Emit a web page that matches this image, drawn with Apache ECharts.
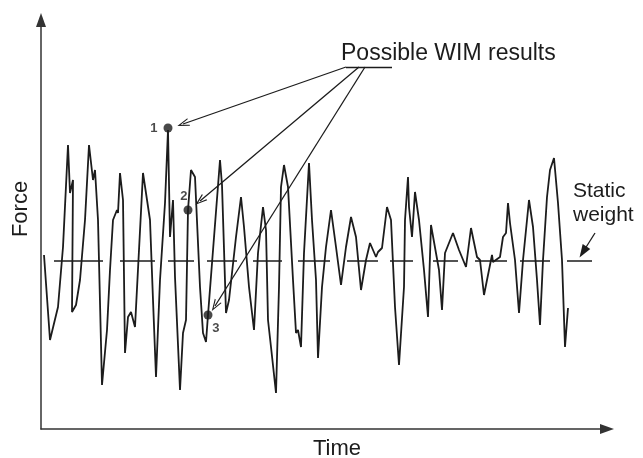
<!DOCTYPE html>
<html>
<head>
<meta charset="utf-8">
<script src="https://cdn.jsdelivr.net/npm/echarts@6/dist/echarts.min.js"></script>
<style>
  html, body { margin: 0; padding: 0; background: #fff; }
  #wimChart { width: 643px; height: 458px; }
</style>
</head>
<body>
<div id="wimChart"></div>
<script>
// force signal (time / force in arbitrary units)
const signalTime = [3, 9, 17, 22, 27, 29, 32, 31, 35, 39, 44, 48, 52, 54, 57, 61, 66, 69, 72, 76, 77, 79, 82, 84, 87, 90, 94, 102, 109, 112, 115, 119, 124, 127, 129, 132, 134, 139, 142, 145, 147, 150, 154, 159, 162, 165, 167, 179, 181, 185, 188, 190, 195, 200, 203, 208, 213, 217, 222, 225, 227, 230, 235, 238, 240, 243, 247, 252, 255, 257, 260, 263, 268, 271, 275, 277, 281, 285, 290, 295, 300, 305, 310, 315, 320, 325, 329, 335, 337, 341, 346, 350, 354, 358, 363, 364, 367, 368, 371, 374, 378, 383, 387, 390, 398, 401, 404, 406, 412, 418, 425, 430, 436, 439, 443, 451, 452, 459, 462, 465, 467, 469, 474, 478, 482, 486, 488, 492, 496, 499, 502, 506, 509, 513, 517, 521, 524, 527];
const signalForce = [174, 89, 122, 182, 284, 236, 249, 117, 124, 149, 209, 284, 249, 259, 209, 44, 99, 159, 209, 219, 216, 256, 229, 76, 112, 117, 102, 256, 209, 129, 52, 149, 226, 299, 192, 229, 152, 39, 96, 109, 219, 259, 252, 142, 96, 87, 114, 269, 244, 116, 129, 127, 192, 232, 202, 142, 99, 176, 222, 199, 109, 82, 36, 142, 242, 264, 242, 149, 96, 99, 82, 176, 266, 209, 149, 71, 142, 182, 219, 182, 144, 182, 212, 192, 139, 169, 186, 172, 177, 181, 222, 209, 122, 64, 142, 209, 252, 222, 192, 237, 209, 159, 112, 204, 159, 119, 176, 181, 196, 179, 162, 201, 172, 169, 134, 174, 167, 172, 192, 196, 226, 206, 169, 116, 169, 209, 229, 202, 149, 104, 169, 232, 259, 271, 226, 169, 82, 121];

// static weight level and its dash pieces
const staticLevel = 168;
const staticDashStart = [13, 79, 127, 166, 212, 257, 306, 349, 392, 434, 479, 526];
const staticDashEnd = [62, 114, 153, 196, 241, 289, 337, 372, 417, 466, 509, 551];

// the three possible WIM results
const wimLabels = ["1", "2", "3"];
const wimTime = [127, 147, 167];
const wimForce = [301, 219, 114];

let signalData = signalTime.map((t, i) => [t, signalForce[i]]);
let staticData = [];
staticDashStart.forEach((a, i) => {
  staticData.push([a, staticLevel], [staticDashEnd[i], staticLevel], [staticDashEnd[i], "-"]);
});

const ink = "#1c1c1c";
const fontName = "'Liberation Sans', Arial, sans-serif";
// open chevron arrow head, pointing up
const chevron = "path://M5,0 L10,12 L8.6,12 L5,3.4 L1.4,12 L0,12 Z";

let option = {
  animation: false,
  backgroundColor: "#fff",
  grid: { left: 41, right: 36, top: 20, bottom: 29 },
  xAxis: {
    type: "value",
    min: 0,
    max: 566,
    axisLine: { lineStyle: { color: "#333", width: 1.5 }, symbol: ["none", "triangle"], symbolSize: [10, 14] },
    axisTick: { show: false },
    axisLabel: { show: false },
    splitLine: { show: false },
  },
  yAxis: {
    type: "value",
    min: 0,
    max: 409,
    axisLine: { show: true, lineStyle: { color: "#333", width: 1.5 }, symbol: ["none", "triangle"], symbolSize: [10, 14] },
    axisTick: { show: false },
    axisLabel: { show: false },
    splitLine: { show: false },
  },
  graphic: [
    // axis titles
    {
      type: "text",
      x: 337,
      y: 449,
      style: { text: "Time", fill: ink, font: "22px " + fontName, align: "center", verticalAlign: "middle" },
    },
    {
      type: "text",
      x: 21,
      y: 209,
      rotation: Math.PI / 2,
      style: { text: "Force", fill: ink, font: "22px " + fontName, align: "center", verticalAlign: "middle" },
    },
    {
      type: "text",
      style: { text: "Possible WIM results", x: 341, y: 54, fill: ink, font: "23px " + fontName, verticalAlign: "middle" },
    },
    {
      type: "text",
      style: { text: "Static", x: 573, y: 191, fill: ink, font: "21px " + fontName, verticalAlign: "middle" },
    },
    {
      type: "text",
      style: { text: "weight", x: 573, y: 215, fill: ink, font: "21px " + fontName, verticalAlign: "middle" },
    },
  ],
  series: [
    {
      name: "force",
      type: "line",
      data: signalData,
      symbol: "none",
      lineStyle: { color: ink, width: 1.8 },
      z: 3,
    },
    {
      name: "static",
      type: "line",
      data: staticData,
      symbol: "none",
      connectNulls: false,
      lineStyle: { color: ink, width: 1.6 },
      z: 2,
    },
    {
      name: "wim",
      type: "scatter",
      data: wimTime.map((t, i) => ({ value: [t, wimForce[i]], name: wimLabels[i] })),
      symbolSize: 9,
      itemStyle: { color: ink },
      label: {
        show: true,
        formatter: "{b}",
        color: ink,
        fontSize: 13,
        fontWeight: "bold",
        fontFamily: fontName,
        position: "left",
        distance: 6,
      },
      labelLayout: function (params) {
        if (params.dataIndex === 1) return { dx: 10, dy: -14 };
        if (params.dataIndex === 2) return { dx: 22, dy: 13 };
        return {};
      },
      z: 4,
      markLine: {
        silent: true,
        animation: false,
        symbol: ["none", "none"],
        label: { show: false },
        lineStyle: { color: ink, width: 1.3, type: "solid" },
        data: [
          [{ coord: [305, 362] }, { coord: [351, 362] }],
          [{ coord: [305, 362] }, { coord: [142, 305], symbol: chevron, symbolSize: [8, 12] }],
          [{ coord: [318, 362] }, { coord: [159, 228], symbol: chevron, symbolSize: [8, 12] }],
          [{ coord: [324, 362] }, { coord: [174, 123], symbol: chevron, symbolSize: [8, 12] }],
          [{ coord: [554, 196] }, { coord: [542, 177], symbol: "triangle", symbolSize: [9, 13] }],
        ],
      },
    },
  ],
};

let wimChart = echarts.init(document.getElementById("wimChart"));
wimChart.setOption(option, true);
</script>
</body>
</html>
